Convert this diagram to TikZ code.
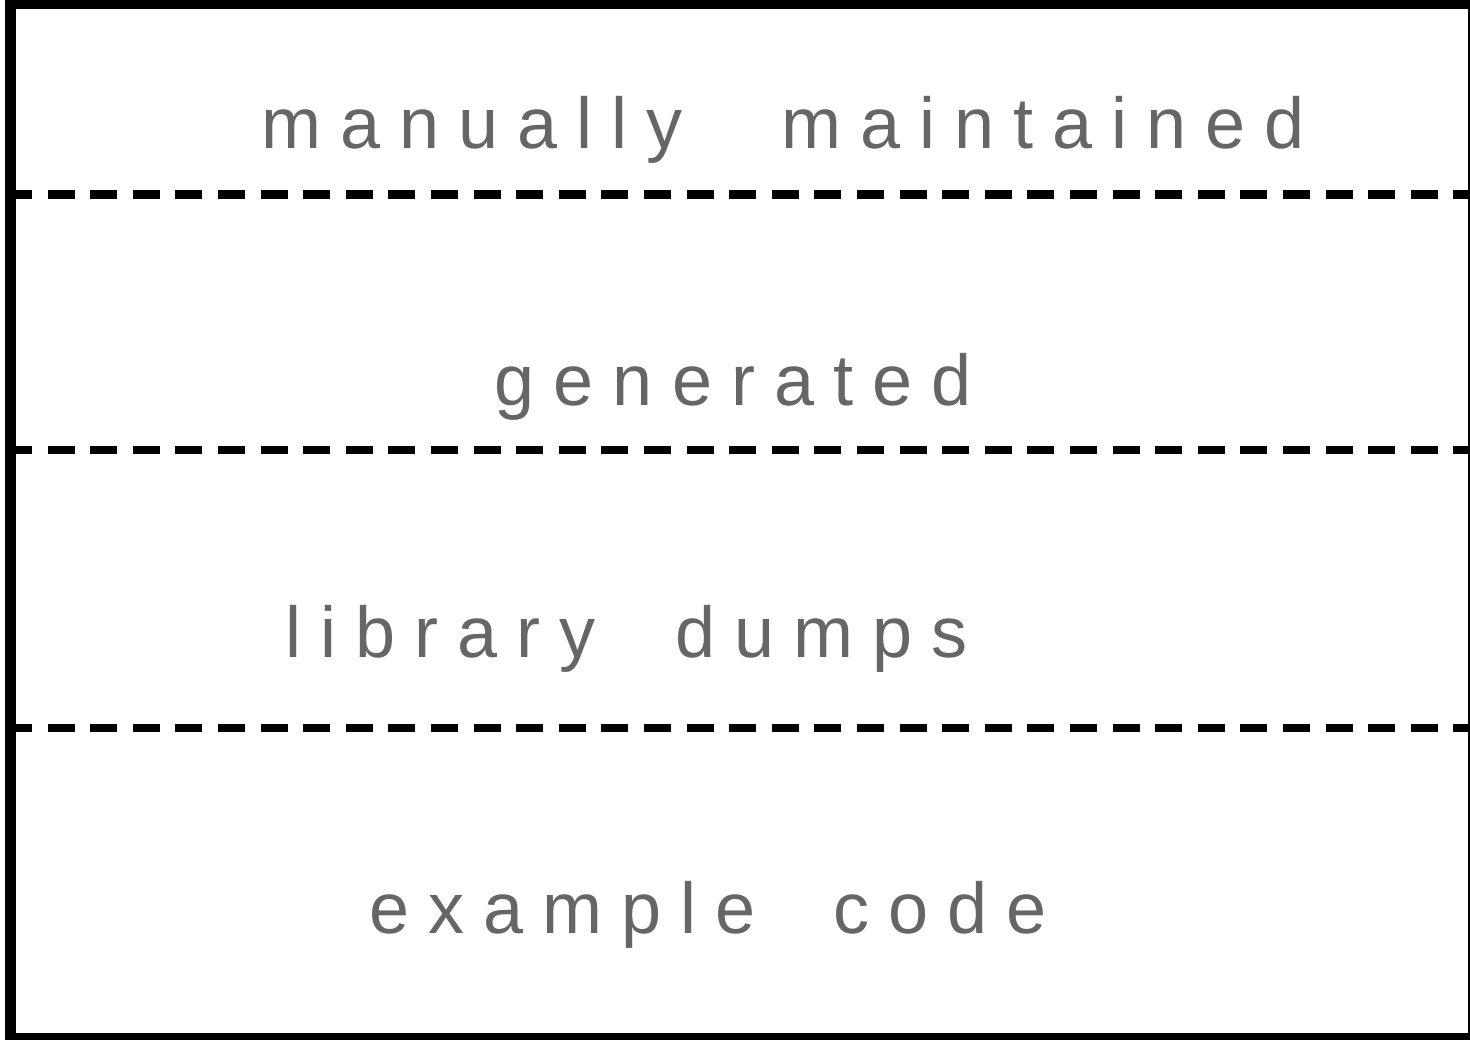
\documentclass[tikz,border=0pt]{standalone}
\usepackage{fontspec}
\setmainfont{Liberation Sans}
\newfontfamily\spacedsans[LetterSpace=26.4]{Liberation Sans}
\definecolor{labelgray}{HTML}{666666}
\begin{document}
\begin{tikzpicture}[x=0.5pt,y=-0.5pt,
  layerlabel/.style={font={\spacedsans\fontsize{36pt}{40pt}\selectfont},
    text=labelgray, inner sep=0pt, anchor=base west},
  divider/.style={line width=4.25pt, dash pattern=on 13.5pt off 7.8pt}]
\useasboundingbox (0,0) rectangle (1470,1039);
\clip (0,0) rectangle (1470,1039);
% outer frame
\draw[line width=5.5pt] (10.5,3.5) rectangle (1473,1038.5);
% dashed dividers between the layers
\coordinate (d1l) at (5,194.5);  \coordinate (d1r) at (1470,194.5);
\coordinate (d2l) at (5,450);    \coordinate (d2r) at (1470,450);
\coordinate (d3l) at (5,728);    \coordinate (d3r) at (1470,728);
\draw[divider] (d1l) -- (d1r);
\draw[divider] (d2l) -- (d2r);
\draw[divider] (d3l) -- (d3r);
% layer names
\node[layerlabel] (manual) at (261,148.3) {manually\hspace{49.5pt}maintained};
\node[layerlabel] (generated) at (494.5,405) {generated};
\node[layerlabel] (dumps) at (285,657) {library\hspace{40pt}dumps};
\node[layerlabel] (examples) at (369,933) {example\hspace{39pt}code};
\end{tikzpicture}
\end{document}
